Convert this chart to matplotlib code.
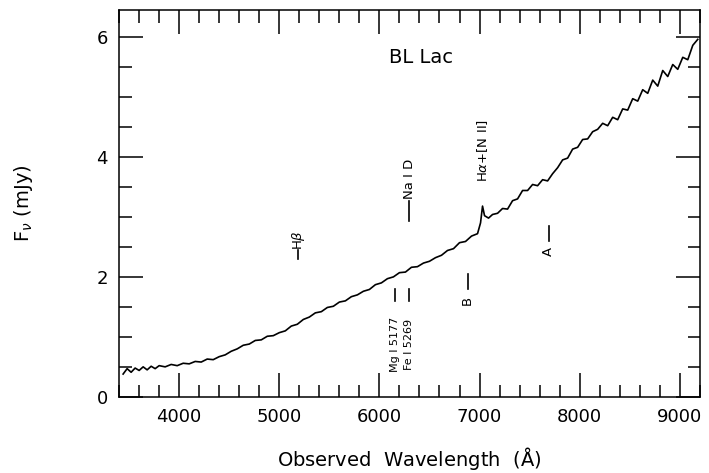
import numpy as np
import matplotlib.pyplot as plt
from matplotlib.ticker import MultipleLocator

# observed wavelength (A) and flux density (mJy)
wave = [3440, 3480, 3520, 3560, 3600, 3640, 3680, 3720, 3760, 3800,
        3860, 3920, 3980, 4040, 4100, 4160, 4220, 4280, 4340, 4400,
        4460, 4520, 4580, 4640, 4700, 4760, 4820, 4880, 4940, 5000,
        5060, 5120, 5180, 5240, 5300, 5360, 5420, 5480, 5540, 5600,
        5660, 5720, 5780, 5840, 5900, 5960, 6020, 6080, 6140, 6200,
        6260, 6320, 6380, 6440, 6500, 6560, 6620, 6680, 6740, 6800,
        6860, 6920, 6980, 7010, 7030, 7050, 7090, 7130, 7180, 7230,
        7280, 7330, 7380, 7430, 7480, 7530, 7580, 7630, 7680, 7730,
        7780, 7830, 7880, 7930, 7980, 8030, 8080, 8130, 8180, 8230,
        8280, 8330, 8380, 8430, 8480, 8530, 8580, 8630, 8680, 8730,
        8780, 8830, 8880, 8930, 8980, 9030, 9080, 9130, 9180]
flux = [0.38, 0.47, 0.41, 0.48, 0.44, 0.50, 0.45, 0.51, 0.47, 0.52,
        0.50, 0.54, 0.52, 0.56, 0.55, 0.59, 0.58, 0.63, 0.62, 0.67,
        0.70, 0.76, 0.80, 0.86, 0.88, 0.94, 0.95, 1.01, 1.02, 1.07,
        1.10, 1.18, 1.21, 1.29, 1.33, 1.40, 1.42, 1.49, 1.51, 1.58,
        1.60, 1.67, 1.70, 1.76, 1.79, 1.87, 1.90, 1.97, 2.00, 2.07,
        2.08, 2.16, 2.17, 2.23, 2.26, 2.32, 2.36, 2.44, 2.47, 2.57,
        2.59, 2.68, 2.72, 2.90, 3.18, 3.02, 2.98, 3.04, 3.06, 3.14,
        3.13, 3.27, 3.30, 3.44, 3.44, 3.54, 3.52, 3.62, 3.60, 3.72,
        3.82, 3.95, 3.98, 4.13, 4.16, 4.29, 4.30, 4.42, 4.46, 4.56,
        4.52, 4.66, 4.62, 4.80, 4.78, 4.97, 4.93, 5.12, 5.06, 5.28,
        5.18, 5.44, 5.34, 5.54, 5.46, 5.66, 5.62, 5.86, 5.96]

# spectral line labels: text, wavelength, flux of text centre, marker line (y0, y1)
line_names = ["H$\\beta$", "Na I D", "H$\\alpha$+[N II]", "B", "A",
              "Mg I 5177", "Fe I 5269"]
line_waves = [5190, 6300, 7030, 6880, 7690, 6160, 6300]
line_text_y = [2.62, 3.63, 4.1, 1.6, 2.42, 0.88, 0.88]
line_mark = [(2.3, 2.45), (2.93, 3.27), None, (1.8, 2.05), (2.6, 2.85),
             (1.6, 1.8), (1.6, 1.8)]
line_size = [9.5, 9.5, 9.5, 9.5, 9.5, 8, 8]

fig = plt.figure(figsize=(7.09, 4.73), dpi=100)
ax = fig.add_axes([0.168, 0.161, 0.819, 0.818])

ax.plot(wave, flux, color="black", lw=1.2)

for name, lw_, ty, mk, fs in zip(line_names, line_waves, line_text_y, line_mark, line_size):
    ax.text(lw_, ty, name, rotation=90, ha="center", va="center", fontsize=fs)
    if mk is not None:
        ax.plot([lw_, lw_], mk, color="black", lw=1.2)

ax.text(6415, 5.65, "BL Lac", ha="center", va="center", fontsize=14)

ax.set_xlim(3400, 9200)
ax.set_ylim(0, 6.45)
ax.xaxis.set_major_locator(MultipleLocator(1000))
ax.xaxis.set_minor_locator(MultipleLocator(200))
ax.yaxis.set_major_locator(MultipleLocator(2))
ax.yaxis.set_minor_locator(MultipleLocator(0.5))
ax.tick_params(which="both", direction="in", top=True, right=True, labelsize=13, pad=8)
ax.tick_params(which="major", length=17, width=1.1)
ax.tick_params(which="minor", length=9, width=1.1)
for s in ax.spines.values():
    s.set_linewidth(1.1)

ax.set_xlabel("Observed  Wavelength  ($\\mathrm{\\AA}$)", fontsize=14, labelpad=14)
ax.set_ylabel("F$_\\nu$ (mJy)", fontsize=14, labelpad=44)

plt.savefig("out.png", dpi=100)
